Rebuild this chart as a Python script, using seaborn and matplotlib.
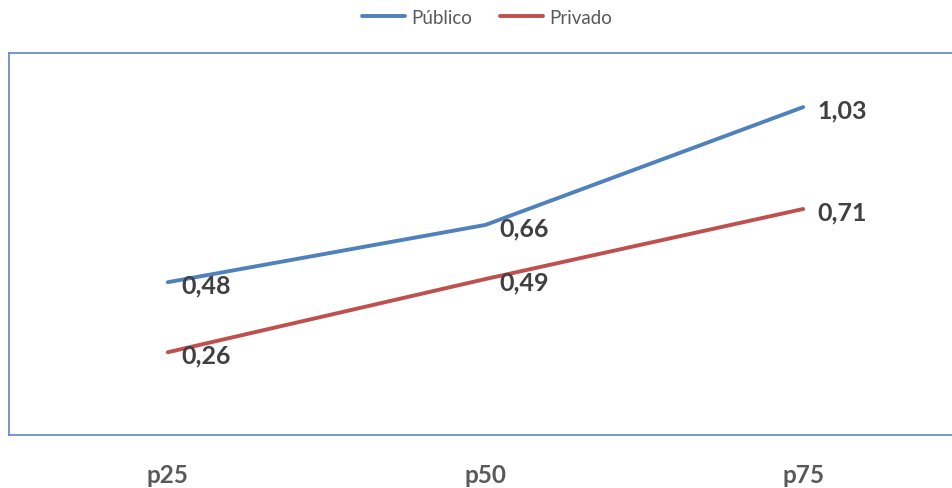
import matplotlib
matplotlib.use("Agg")
import matplotlib.pyplot as plt
import seaborn as sns
import pandas as pd

categories = ["p25", "p50", "p75"]
publico = [0.48, 0.66, 1.03]
privado = [0.26, 0.49, 0.71]
series_names = ["Público", "Privado"]
colors = ["#4F81BD", "#C0504D"]

sns.set_theme(style="white")
plt.rcParams["font.family"] = ["Lato", "DejaVu Sans"]

df = pd.DataFrame({
    "cat": categories * 2,
    "x": list(range(len(categories))) * 2,
    "valor": publico + privado,
    "serie": [series_names[0]] * 3 + [series_names[1]] * 3,
})

fig = plt.figure(figsize=(9.52, 4.89), dpi=100)
ax = fig.add_axes([9 / 952, 53 / 489, 953 / 952, 382 / 489])

sns.lineplot(data=df, x="x", y="valor", hue="serie", palette=colors,
             linewidth=2.8, ax=ax, legend=False)

ax.set_xlim(-0.5, 2.5)
ax.set_ylim(0, 1.2)
ax.set_xticks(range(len(categories)))
ax.set_xticklabels(categories, fontsize=17.5, fontweight="bold", color="#595959")
ax.tick_params(axis="x", length=0, pad=20)
ax.set_yticks([])
ax.set_xlabel("")
ax.set_ylabel("")
for s in ax.spines.values():
    s.set_color("#6A8FC7")
    s.set_linewidth(1.3)

# value labels to the right of each point
for vals in (publico, privado):
    for i, v in enumerate(vals):
        ax.annotate(f"{v:.2f}".replace(".", ","), (i, v), xytext=(10, -2),
                    textcoords="offset points", ha="left", va="center",
                    fontsize=18, fontweight="bold", color="#404040")

# legend above the plot area
handles = [plt.Line2D([], [], color=c, linewidth=2.8) for c in colors]
fig.legend(handles, series_names, loc="center", bbox_to_anchor=(487 / 952, 1 - 18 / 489),
           ncol=2, frameon=False, fontsize=13.5, handlelength=2.3, handletextpad=0.3,
           columnspacing=1.5, labelcolor="#595959")

fig.savefig("out.png", dpi=100)
